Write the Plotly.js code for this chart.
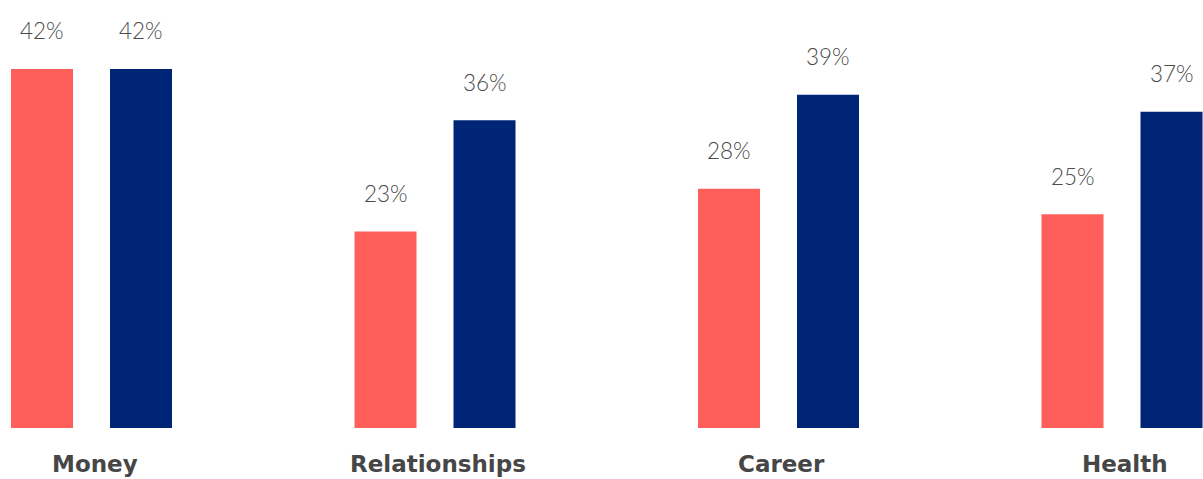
<!DOCTYPE html>
<html>
<head>
<meta charset="utf-8">
<script src="https://cdn.plot.ly/plotly-3.0.1.min.js"></script>
<style>
  html, body { margin: 0; padding: 0; background: #ffffff; }
  #chart { width: 1203px; height: 479px; }
</style>
</head>
<body>
<div id="chart"></div>
<script>
const categories = ["Money", "Relationships", "Career", "Health"];
const seriesA = [42, 23, 28, 25];
const seriesB = [42, 36, 39, 37];
const seriesNames = ["Series A", "Series B"];
const colorA = "#FF5F5B";
const colorB = "#002577";

const traces = [
  { type: "bar", name: seriesNames[0], x: categories, y: seriesA,
    marker: { color: colorA }, hoverinfo: "skip" },
  { type: "bar", name: seriesNames[1], x: categories, y: seriesB,
    marker: { color: colorB }, hoverinfo: "skip" }
];

const valueFont = { family: "Lato, 'Open Sans', sans-serif", size: 22.5, color: "#4a4a4a", weight: 300 };
const annotations = [];
[seriesA, seriesB].forEach((vals, s) => {
  vals.forEach((v, i) => {
    annotations.push({
      x: categories[i], y: v, xref: "x", yref: "y",
      text: v + "%", showarrow: false,
      xshift: s === 0 ? -49.5 : 49.5, yshift: 38,
      yanchor: "middle", xanchor: "center",
      font: valueFont
    });
  });
});
categories.forEach((c, i) => {
  annotations.push({
    x: c, y: 0, xref: "x", yref: "paper",
    text: "<b>" + c + "</b>", showarrow: false,
    yanchor: "middle", xanchor: "center", yshift: -36, xshift: 3,
    font: { family: "'DejaVu Sans', sans-serif", size: 23, color: "#464646" }
  });
});

const layout = {
  width: 1203, height: 479,
  margin: { l: 0, r: 0, t: 0, b: 51, pad: 0 },
  paper_bgcolor: "#ffffff", plot_bgcolor: "#ffffff",
  showlegend: false,
  barmode: "group",
  bargap: 0.4236,
  bargroupgap: 0.3737,
  xaxis: { type: "category", range: [-0.2664, 3.2358], showticklabels: false,
           showgrid: false, zeroline: false, showline: false, ticks: "" },
  yaxis: { range: [0, 50.07], showticklabels: false, showgrid: false,
           zeroline: false, showline: false, ticks: "" },
  annotations: annotations
};

Plotly.newPlot("chart", traces, layout, { displayModeBar: false, staticPlot: true });
</script>
</body>
</html>
